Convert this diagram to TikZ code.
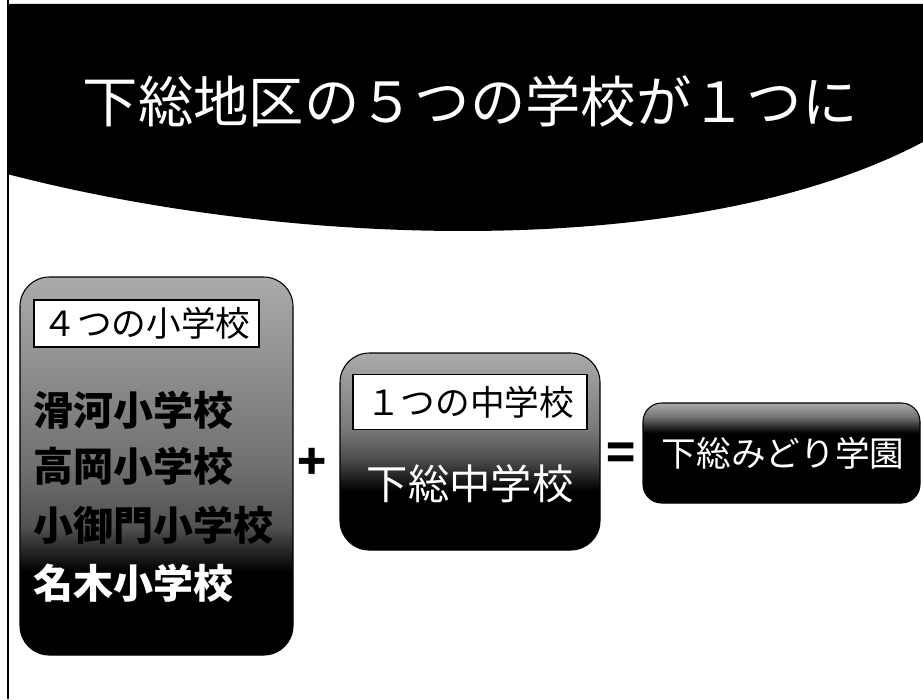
\documentclass[tikz,border=0pt]{standalone}
\usepackage{fontspec}
\newfontfamily\jp{Noto Sans CJK JP}
\pgfdeclareverticalshading{tallfade}{100bp}{color(0bp)=(black); color(36bp)=(black); color(42bp)=(black!68); color(50bp)=(black!56); color(75bp)=(black!33); color(100bp)=(black!33)}
\pgfdeclareverticalshading{midfade}{100bp}{color(0bp)=(black); color(40bp)=(black); color(48bp)=(black!70); color(56bp)=(black!52); color(75bp)=(black!33); color(100bp)=(black!33)}
\pgfdeclareverticalshading{shortfade}{100bp}{color(0bp)=(black); color(60bp)=(black); color(68bp)=(black!55); color(75bp)=(black!33); color(100bp)=(black!33)}
\tikzset{
	schoolbox/.style={draw=black, line width=0.8pt, rounded corners=22pt, shading=tallfade, inner sep=0pt},
	tagbox/.style={draw=black, line width=1pt, fill=white, inner sep=0pt, font=\jp\fontsize{26}{30}\selectfont},
	rowtext/.style={anchor=west, inner sep=0pt, font=\jp\bfseries\fontsize{30}{34}\selectfont},
	whitetext/.style={text=white, inner sep=0pt},
	sign/.style={inner sep=0pt, font=\jp\bfseries\fontsize{36}{40}\selectfont}
}
\begin{document}
\begin{tikzpicture}[x=0.75pt, y=-0.75pt]
	\useasboundingbox (0,0) rectangle (923,699);
	\fill[white] (0,0) rectangle (923,699);
	\fill[black] (7,4) -- (923,4) -- (923,142) .. controls (700,260) and (300,250) .. (7,174) -- cycle;
	\draw[line width=2.2pt] (8,0) -- (8,699);
	\node[whitetext, font=\jp\fontsize{41.5}{48}\selectfont] (title) at (470,101) {下総地区の５つの学校が１つに};

	\node[schoolbox, minimum width=204.75pt, minimum height=283.5pt] (elem) at (156.5,466) {};
	\node[tagbox, minimum width=168.75pt, minimum height=35.25pt] (elemtag) at (146.5,323.5) {４つの小学校};
	\node[rowtext] (namegawa) at (33,410) {滑河小学校};
	\node[rowtext] (takaoka) at (33,466) {高岡小学校};
	\node[rowtext] (komikado) at (33,525) {小御門小学校};
	\node[rowtext, text=white] (naki) at (33,583) {名木小学校};

	\node[sign] (plus) at (312,464) {+};

	\node[schoolbox, shading=midfade, minimum width=195pt, minimum height=147.75pt] (junior) at (470,451.5) {};
	\node[tagbox, minimum width=175.5pt, minimum height=41.25pt] (juniortag) at (470,402) {１つの中学校};
	\node[whitetext, font=\jp\fontsize{31}{36}\selectfont] (shimofusa) at (470,484) {下総中学校};

	\node[sign] (equals) at (621,457) {=};

	\node[schoolbox, shading=shortfade, rounded corners=14pt, minimum width=207.75pt, minimum height=75pt] (gakuen) at (781.5,453) {};
	\node[whitetext, font=\jp\fontsize{26}{30}\selectfont] (midori) at (783,453) {下総みどり学園};
\end{tikzpicture}
\end{document}
